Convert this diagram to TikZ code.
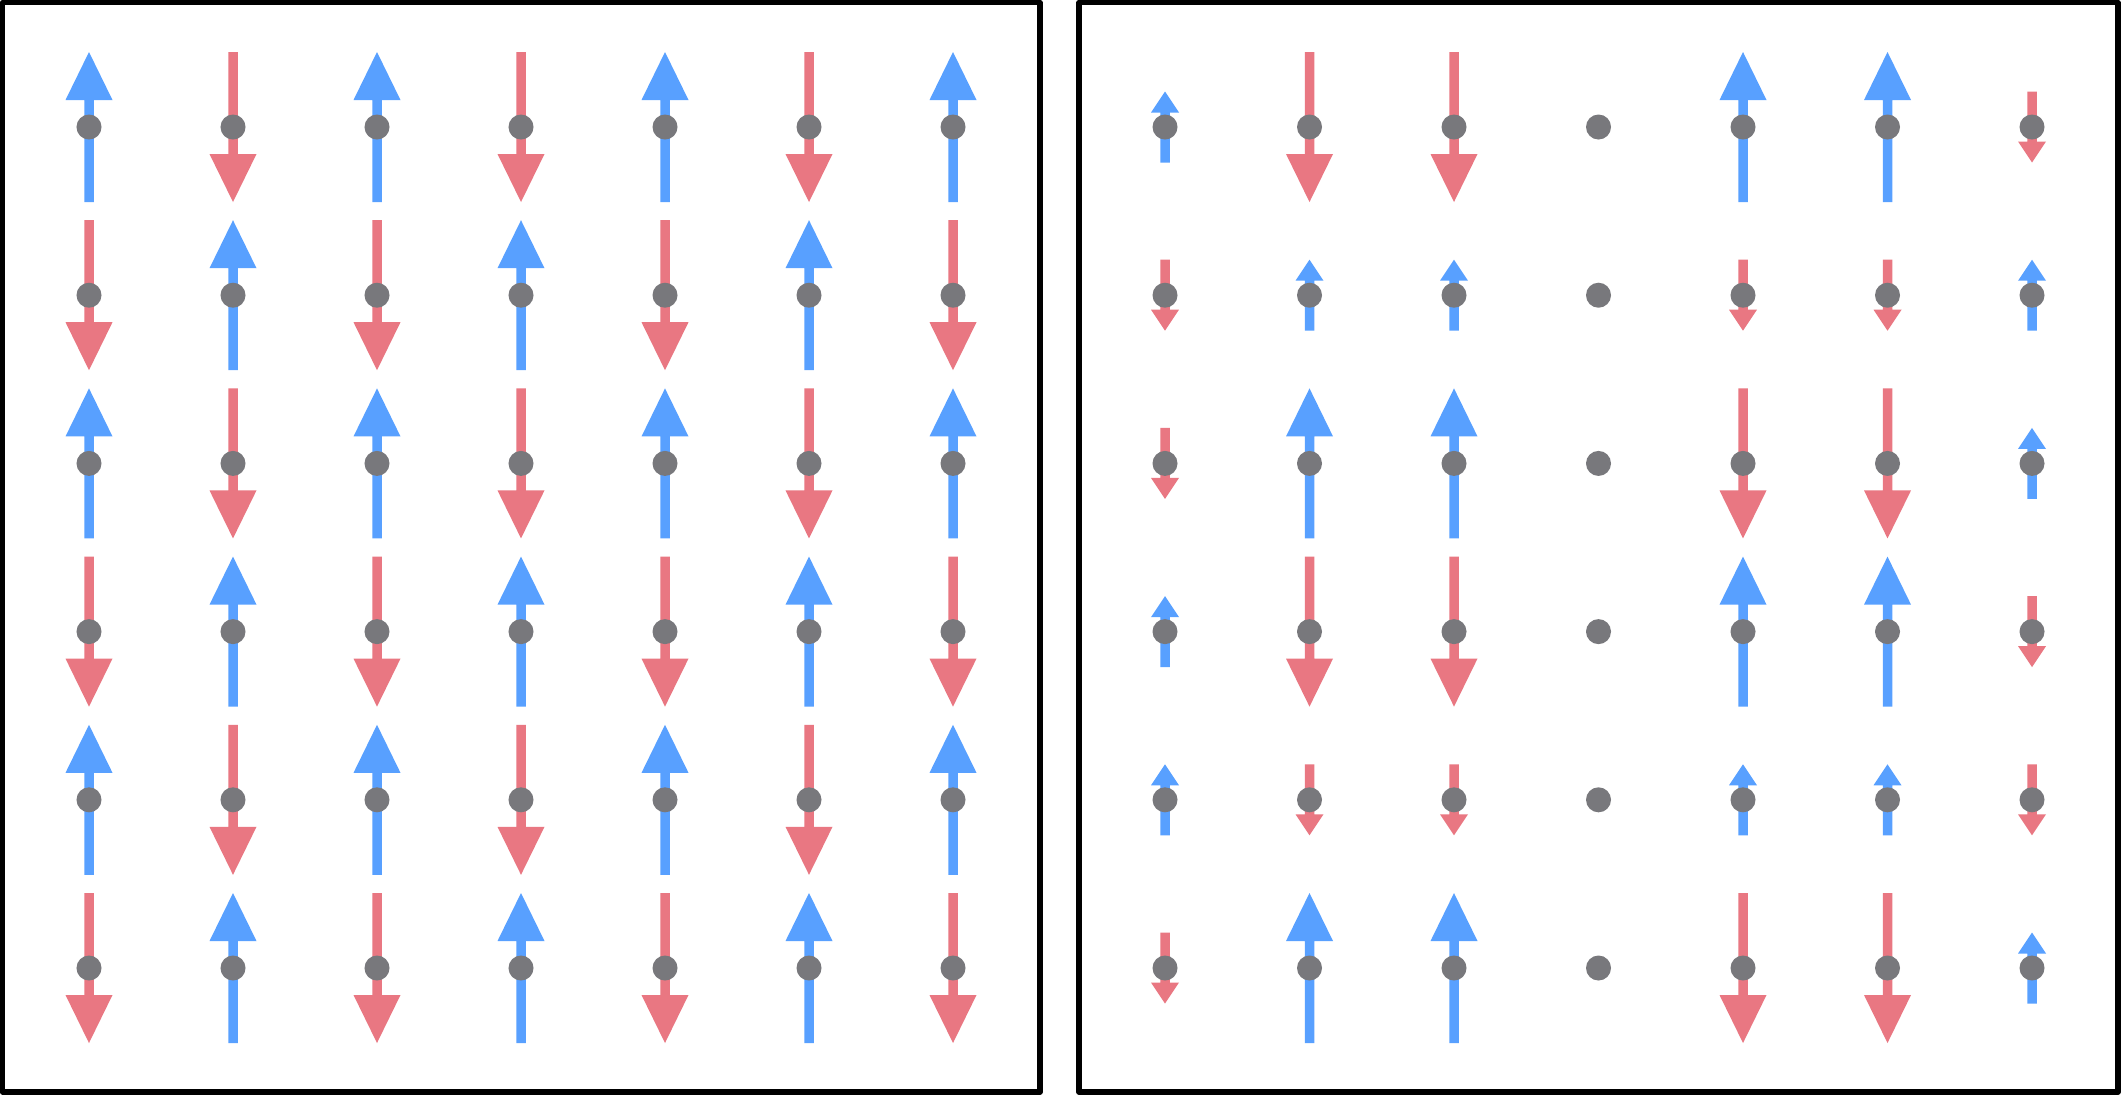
\documentclass[tikz,border=0pt]{standalone}
\definecolor{spinblue}{RGB}{88,160,255}
\definecolor{spinred}{RGB}{233,119,130}
\definecolor{sitegray}{RGB}{120,120,124}
\tikzset{
  site/.style={circle, fill=sitegray, inner sep=0pt, minimum size=0.25cm},
  frame/.style={draw=black, line width=0.055cm, line join=round}
}
\newcommand{\drawspin}[4]{% x, y, value, node name
  \ifnum#3=0\relax\else
    \pgfmathsetmacro\spS{sign(#3)}%
    \pgfmathtruncatemacro\spM{abs(#3)}%
    \ifnum\spM=2 \def\spL{75}\def\spH{48}\def\spW{23.5}\else\def\spL{35.5}\def\spH{21}\def\spW{14}\fi
    \ifnum#3>0 \def\spC{spinblue}\else\def\spC{spinred}\fi
    \pgfmathsetmacro\spB{#2-\spS*(\spL-\spH)}%
    \pgfmathsetmacro\spT{#2-\spS*\spL}%
    \pgfmathsetmacro\spE{#2+\spS*\spL}%
    \fill[\spC] ({#1-4.75},\spE) -- ({#1-4.75},\spB) -- ({#1-\spW},\spB) -- (#1,\spT)
      -- ({#1+\spW},\spB) -- ({#1+4.75},\spB) -- ({#1+4.75},\spE) -- cycle;
  \fi
  \node[site] (#4) at (#1,#2) {};
}
\begin{document}
\begin{tikzpicture}[x=0.01cm, y=-0.01cm]
\useasboundingbox (0,0) rectangle (2121,1096);
\fill[white] (0,0) rectangle (2121,1096);
% left panel: Neel order
\foreach \r in {0,...,5} {
  \foreach \c in {0,...,6} {
    \pgfmathsetmacro\X{89+144*\c}
    \pgfmathsetmacro\Y{127+168.2*\r}
    \pgfmathtruncatemacro\pp{mod(\c+\r,2)}
    \ifnum\pp=0 \def\vv{2}\else\def\vv{-2}\fi
    \drawspin{\X}{\Y}{\vv}{L\r\c}
  }
}
% right panel
\foreach \row [count=\r from 0] in {
  {1,-2,-2,0,2,2,-1},
  {-1,1,1,0,-1,-1,1},
  {-1,2,2,0,-2,-2,1},
  {1,-2,-2,0,2,2,-1},
  {1,-1,-1,0,1,1,-1},
  {-1,2,2,0,-2,-2,1}} {
  \foreach \v [count=\c from 0] in \row {
    \pgfmathsetmacro\X{1165+144.5*\c}
    \pgfmathsetmacro\Y{127+168.2*\r}
    \drawspin{\X}{\Y}{\v}{R\r\c}
  }
}
\draw[frame] (2.5,2.5) rectangle (1040,1092);
\draw[frame] (1079,2.5) rectangle (2118,1092);
\end{tikzpicture}
\end{document}
